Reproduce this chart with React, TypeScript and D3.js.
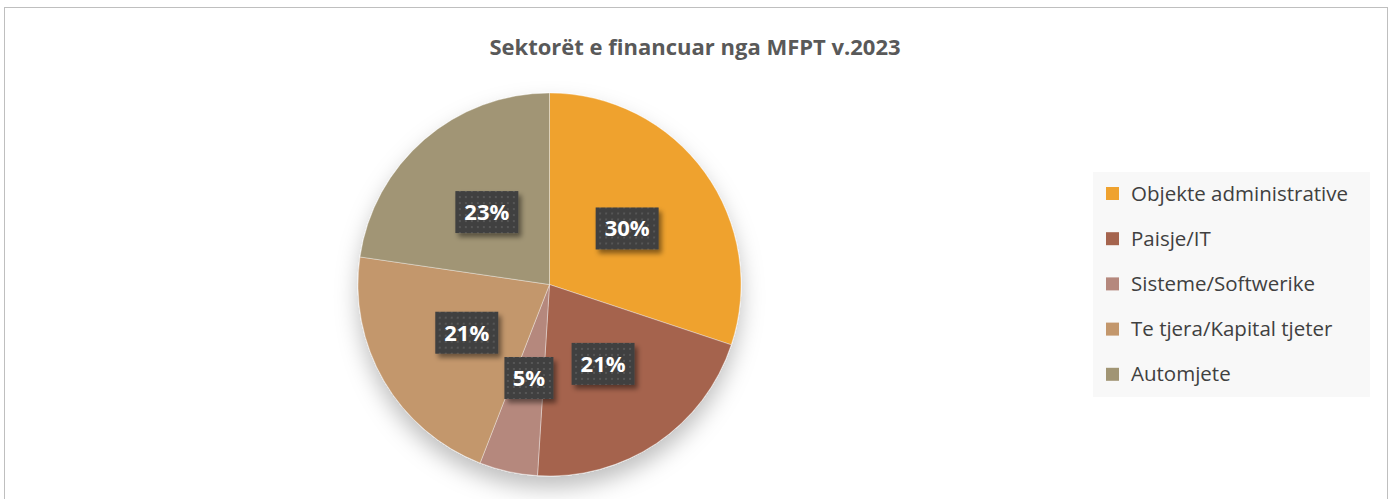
import React, { useEffect, useRef } from 'react';
import * as d3 from 'd3';

const categories = ['Objekte administrative', 'Paisje/IT', 'Sisteme/Softwerike', 'Te tjera/Kapital tjeter', 'Automjete'];
const shares = [30.1, 20.9, 4.9, 21.4, 22.7];
const colors = ['#EFA22F', '#A5644E', '#B5887D', '#C3976C', '#A19574'];
const title = 'Sektorët e financuar nga MFPT v.2023';

const W = 1392;
const H = 499;

const App = () => {
  const svgRef = useRef(null);

  useEffect(() => {
    const svg = d3.select(svgRef.current);
    svg.selectAll('*').remove();

    const defs = svg.append('defs');
    const pieShadow = defs.append('filter').attr('id', 'pieShadow')
      .attr('x', '-30%').attr('y', '-30%').attr('width', '160%').attr('height', '160%');
    pieShadow.append('feDropShadow').attr('dx', 0).attr('dy', 12).attr('stdDeviation', 11)
      .attr('flood-color', '#000').attr('flood-opacity', 0.25);

    const boxShadow = defs.append('filter').attr('id', 'boxShadow')
      .attr('x', '-30%').attr('y', '-30%').attr('width', '160%').attr('height', '160%');
    boxShadow.append('feDropShadow').attr('dx', 3).attr('dy', 4).attr('stdDeviation', 2.5)
      .attr('flood-color', '#000').attr('flood-opacity', 0.45);

    const dots = defs.append('pattern').attr('id', 'dots')
      .attr('patternUnits', 'userSpaceOnUse').attr('width', 6).attr('height', 6);
    dots.append('rect').attr('width', 6).attr('height', 6).attr('fill', '#404040');
    dots.append('rect').attr('x', 2).attr('y', 2).attr('width', 2).attr('height', 2).attr('fill', '#565656');

    // chart frame
    svg.append('rect')
      .attr('x', 4.5).attr('y', 7.5).attr('width', 1383).attr('height', 520)
      .attr('fill', '#fff').attr('stroke', '#BFBFBF').attr('stroke-width', 1);

    svg.append('text')
      .attr('x', 695).attr('y', 55)
      .attr('text-anchor', 'middle')
      .attr('font-family', 'Open Sans')
      .attr('font-weight', 'bold')
      .attr('font-size', 22)
      .attr('fill', '#595959')
      .text(title);

    const cx = 549.5;
    const cy = 284.5;
    const radius = 191.5;

    const g = svg.append('g').attr('transform', `translate(${cx}, ${cy})`);

    const pie = d3.pie().sort(null).value((d) => d.value);
    const data = categories.map((name, i) => ({ name, value: shares[i], color: colors[i] }));
    const arcs = pie(data);
    const arc = d3.arc().innerRadius(0).outerRadius(radius);

    const slices = g.append('g').attr('filter', 'url(#pieShadow)');
    slices.selectAll('path').data(arcs).enter().append('path')
      .attr('d', arc)
      .attr('fill', (d) => d.data.color)
      .attr('stroke', 'rgba(255,255,255,0.45)')
      .attr('stroke-width', 0.8);

    const total = d3.sum(shares);
    const pct = (d) => Math.round((d.data.value / total) * 100);
    const labels = g.selectAll('.lbl').data(arcs).enter().append('g')
      .attr('class', 'lbl')
      .attr('transform', (d) => `translate(${arc.centroid(d)})`);

    labels.append('rect')
      .attr('x', (d) => (pct(d) < 10 ? -24.5 : -31.5))
      .attr('y', -21)
      .attr('width', (d) => (pct(d) < 10 ? 49 : 63))
      .attr('height', 42)
      .attr('fill', 'url(#dots)')
      .attr('filter', 'url(#boxShadow)');

    labels.append('text')
      .attr('text-anchor', 'middle')
      .attr('dy', '0.36em')
      .attr('font-family', 'Open Sans')
      .attr('font-weight', 'bold')
      .attr('font-size', 22)
      .attr('fill', '#fff')
      .text((d) => `${pct(d)}%`);

    // legend
    const legend = svg.append('g');
    legend.append('rect')
      .attr('x', 1093).attr('y', 172).attr('width', 277).attr('height', 225)
      .attr('fill', '#F8F8F8');
    const item = legend.selectAll('.item').data(categories).enter().append('g')
      .attr('class', 'item')
      .attr('transform', (d, i) => `translate(1106, ${193.5 + i * 45.2})`);
    item.append('rect')
      .attr('x', 0).attr('y', -6.5).attr('width', 13).attr('height', 13)
      .attr('fill', (d, i) => colors[i]);
    item.append('text')
      .attr('x', 25).attr('dy', '0.35em')
      .attr('font-family', 'Open Sans')
      .attr('font-size', 20.5)
      .attr('fill', '#404040')
      .text((d) => d);
  }, []);

  return (
    <svg
      ref={svgRef}
      width={W}
      height={H}
      style={{ position: 'absolute', left: 0, top: 0, display: 'block' }}
    />
  );
};

export default App;
